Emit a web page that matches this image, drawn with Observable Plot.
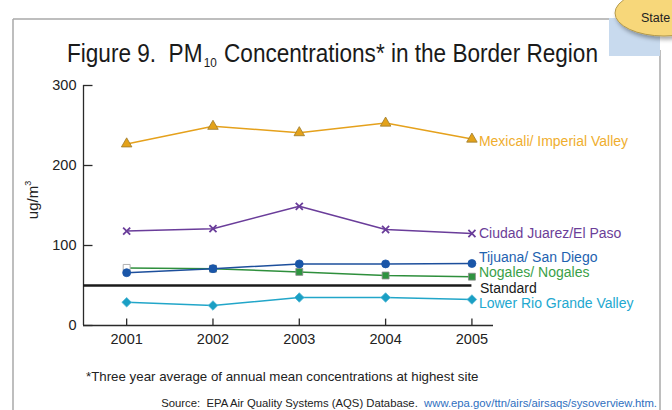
<!DOCTYPE html>
<html><head><meta charset="utf-8">
<script src="https://cdn.jsdelivr.net/npm/d3@7"></script>
<script src="https://cdn.jsdelivr.net/npm/@observablehq/plot@0.6"></script>
<style>
body{margin:0;background:#fff;}
#wrap{position:relative;width:672px;height:410px;overflow:hidden;background:#fff;}
#wrap svg{position:absolute;left:0;top:0;}
</style></head><body><div id="wrap"></div>
<script>
// ---- data ----
const years = [2001, 2002, 2003, 2004, 2005];
const mexicali = [227, 249, 241, 253, 233];
const juarez = [118, 121, 149, 120, 115];
const tijuana = [66, 71, 77, 77, 77.5];
const nogales = [72, 71, 67, 62.5, 61];
const lowerRio = [29, 25, 35, 35, 32.5];
const standardValue = 50;
const names = ["Mexicali/ Imperial Valley", "Ciudad Juarez/El Paso", "Tijuana/ San Diego", "Nogales/ Nogales", "Standard", "Lower Rio Grande Valley"];
const yTicks = [0, 100, 200, 300];

// ---- styles ----
const font = "'Liberation Sans', Arial, sans-serif";
const xDomain = [2000.5, 2005.25];
const rows = vals => years.map((year, i) => ({year, value: vals[i]}));
const last = vals => [{year: years[years.length - 1], value: vals[vals.length - 1]}];

const series = [
  {vals: nogales, name: names[3], line: "#2e8f3c", fill: "#2e9440", stroke: "#8a8a8a", symbol: "square", r: 3.9, text: "#3a9f48", dy: -4},
  {vals: tijuana, name: names[2], line: "#1d4f9c", fill: "#1a56a8", stroke: "#1a56a8", symbol: "circle", r: 4.0, text: "#1e62b0", dy: -6},
  {vals: mexicali, name: names[0], line: "#e5a11c", fill: "#e3a21a", stroke: "#9c7a2c", symbol: "triangle", r: 3.9, text: "#efae2e", dy: 2},
  {vals: juarez, name: names[1], line: "#6a3d9a", fill: "none", stroke: "#6a3d9a", symbol: "times", r: 3.3, text: "#6b3e98", dy: 0},
  {vals: lowerRio, name: names[5], line: "#22a6c9", fill: "#1a9fc4", stroke: "#52b7d4", symbol: "diamond2", r: 4.3, text: "#22a8d0", dy: 4}
];

const marks = [];
// standard line
marks.push(Plot.ruleY([standardValue], {y: d => d, x1: xDomain[0], x2: years[years.length - 1], stroke: "#1a1a1a", strokeWidth: 2.6}));
marks.push(Plot.text([standardValue], {x: years[years.length - 1], y: d => d, text: () => names[4], dx: 8, dy: 3, textAnchor: "start", fill: "#1a1a1a", fontSize: 14}));

for (const s of series) {
  const data = rows(s.vals);
  marks.push(Plot.line(data, {x: "year", y: "value", stroke: s.line, strokeWidth: 1.5}));
  if (s.vals === nogales) {
    marks.push(Plot.dot(data.slice(0, 1), {x: "year", y: "value", symbol: "square", r: s.r, fill: "white", stroke: "#b0b0b0", strokeWidth: 1}));
    marks.push(Plot.dot(data.slice(1), {x: "year", y: "value", symbol: s.symbol, r: s.r, fill: s.fill, stroke: s.stroke, strokeWidth: 0.8}));
  } else if (s.symbol === "times") {
    marks.push(Plot.dot(data, {x: "year", y: "value", symbol: s.symbol, r: s.r, stroke: s.stroke, strokeWidth: 1.8}));
  } else {
    marks.push(Plot.dot(data, {x: "year", y: "value", symbol: s.symbol, r: s.r, fill: s.fill, stroke: s.stroke, strokeWidth: 0.8}));
  }
  marks.push(Plot.text(last(s.vals), {x: "year", y: "value", text: () => s.name, dx: 7, dy: s.dy, textAnchor: "start", fill: s.text, fontSize: 14}));
}

// axes
const axisMarks = [
  Plot.ruleX([xDomain[0]], {x: d => d, stroke: "#2a2a2a", strokeWidth: 1.3}),
  Plot.ruleY([0], {y: d => d, stroke: "#2a2a2a", strokeWidth: 1.3}),
  Plot.ruleY(yTicks, {y: d => d, x1: xDomain[0], x2: xDomain[0] + 0.11, stroke: "#2a2a2a", strokeWidth: 1.3}),
  Plot.ruleX(years, {x: d => d, y1: 0, y2: 8, stroke: "#2a2a2a", strokeWidth: 1.3}),
  Plot.axisY({ticks: yTicks, tickSize: 0, tickPadding: 7, label: null, fontSize: 14.5, fill: "#222"}),
  Plot.axisX({ticks: years, tickFormat: d => String(d), tickSize: 0, tickPadding: 8, label: null, fontSize: 14.5, fill: "#222"})
];

const chart = Plot.plot({
  width: 672, height: 410,
  marginLeft: 83, marginRight: 179, marginTop: 85, marginBottom: 85,
  style: {fontFamily: font, fontSize: "14px", background: "transparent", overflow: "visible"},
  x: {domain: xDomain, axis: null},
  y: {domain: [0, 300], axis: null},
  marks: [...axisMarks, ...marks]
});

const wrap = document.getElementById("wrap");

const ns = "http://www.w3.org/2000/svg";
const deco = document.createElementNS(ns, "svg");
deco.setAttribute("width", 672); deco.setAttribute("height", 410);
deco.innerHTML = `
  <defs><filter id="sh" x="-20%" y="-20%" width="150%" height="160%"><feDropShadow dx="2" dy="3" stdDeviation="2" flood-color="#000" flood-opacity="0.35"/></filter></defs>
  <line x1="13" y1="19" x2="13" y2="410" stroke="#a8a8a8" stroke-width="1.5"/>
  <line x1="13" y1="19" x2="609" y2="19" stroke="#a8a8a8" stroke-width="1.5"/>
  <line x1="660" y1="50" x2="660" y2="410" stroke="#a8a8a8" stroke-width="1.5"/>
  <rect x="609" y="18" width="51" height="38" fill="#c8daee"/>
  <ellipse cx="664" cy="13" rx="49" ry="23" fill="#f7d77a" stroke="#b59a4a" stroke-width="1" filter="url(#sh)"/>
  <text x="641" y="22" font-family="${font}" font-size="12.5" fill="#222">State</text>
`;
const labels = document.createElementNS(ns, "svg");
labels.setAttribute("width", 672); labels.setAttribute("height", 410);
labels.innerHTML = `
  <text x="67" y="62" textLength="531" lengthAdjust="spacingAndGlyphs" font-family="${font}" font-size="25" fill="#1a1a1a" style="white-space:pre">Figure 9.  PM<tspan font-size="13" dx="1.5" dy="5">10</tspan><tspan dx="1" dy="-5"> Concentrations* in the Border Region</tspan></text>
  <text transform="translate(38,200) rotate(-90)" text-anchor="middle" font-family="${font}" font-size="15" fill="#222">ug/m<tspan font-size="9" dy="-7">3</tspan></text>
  <text x="86" y="381" font-family="${font}" font-size="13.3" fill="#222">*Three year average of annual mean concentrations at highest site</text>
  <text x="657" y="407" text-anchor="end" font-family="${font}" font-size="11.3" fill="#222" style="white-space:pre">Source:  EPA Air Quality Systems (AQS) Database.  <tspan fill="#2f6fc0">www.epa.gov/ttn/airs/airsaqs/sysoverview.htm.</tspan></text>
`;
wrap.appendChild(deco);
wrap.appendChild(chart);
wrap.appendChild(labels);
</script></body></html>
